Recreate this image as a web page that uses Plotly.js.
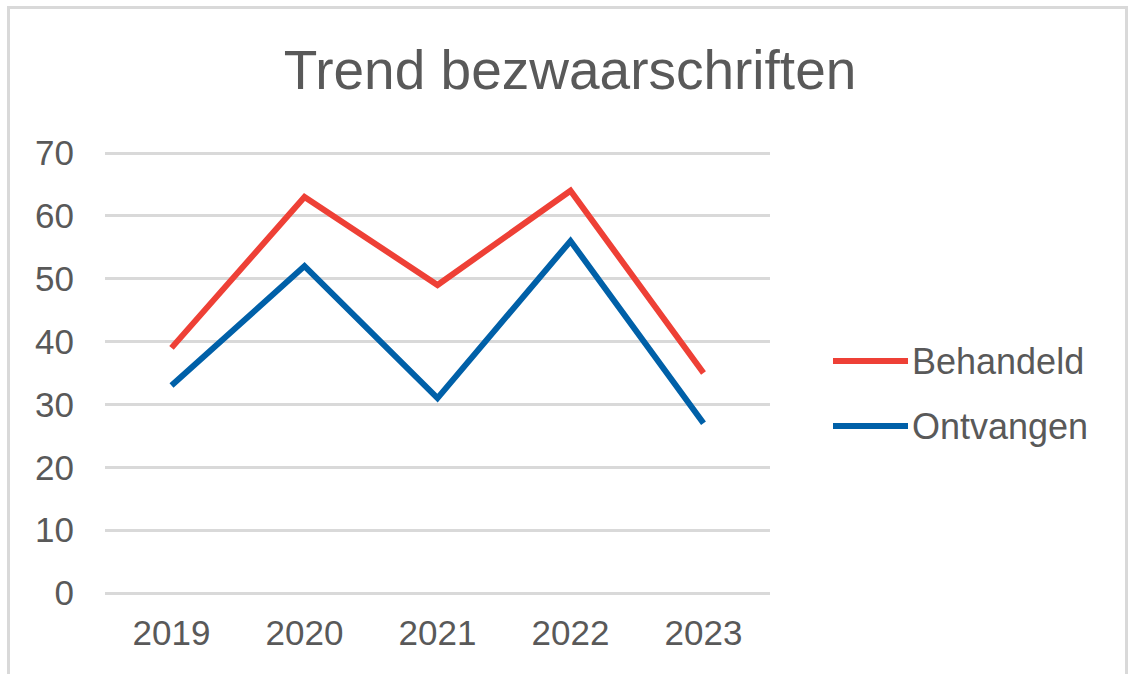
<!DOCTYPE html>
<html>
<head>
<meta charset="utf-8">
<script src="https://cdn.plot.ly/plotly-3.0.1.min.js"></script>
<style>
html, body { margin: 0; padding: 0; background: #ffffff; }
#chart { width: 1128px; height: 674px; }
</style>
</head>
<body>
<div id="chart"></div>
<script>
const chartTitle = "Trend bezwaarschriften";
const years = ["2019", "2020", "2021", "2022", "2023"];
const seriesNames = ["Behandeld", "Ontvangen"];
const behandeld = [39, 63, 49, 64, 35];
const ontvangen = [33, 52, 31, 56, 27];
const yTicks = [0, 10, 20, 30, 40, 50, 60, 70];

const W = 1128, H = 674;
const M = { l: 105, r: 358, t: 151, b: 79 };
const pw = W - M.l - M.r, ph = H - M.t - M.b;
const px = x => (x - M.l) / pw;          // pixel -> paper x
const py = y => 1 - (y - M.t) / ph;      // pixel -> paper y
const unitPx = 440 / 70;                 // pixels per y unit
const pad = 2 / unitPx;                  // keeps edge gridlines visible

const colors = ["#EE4036", "#0060A8"];
const textColor = "#595959";
const fontFam = "'Liberation Sans', Arial, sans-serif";

const traces = [behandeld, ontvangen].map((vals, i) => ({
  type: "scatter",
  mode: "lines",
  x: years,
  y: vals,
  name: seriesNames[i],
  line: { color: colors[i], width: 6, shape: "linear" },
  showlegend: false,
  hoverinfo: "x+y+name"
}));

// custom legend (long line samples like the reference)
const legendY = [361, 426];
const shapes = [];
const annotations = [];
seriesNames.forEach((n, i) => {
  shapes.push({
    type: "line", xref: "paper", yref: "paper",
    x0: px(833), x1: px(908), y0: py(legendY[i]), y1: py(legendY[i]),
    line: { color: colors[i], width: 6 }
  });
  annotations.push({
    xref: "paper", yref: "paper",
    x: px(910), y: py(legendY[i]),
    xanchor: "left", yanchor: "middle",
    text: n, showarrow: false,
    font: { family: fontFam, size: 36, color: textColor }
  });
});
// outer chart border (cropped at the bottom in the reference)
shapes.push({
  type: "path", xref: "paper", yref: "paper",
  path: `M ${px(8.5)} ${py(H + 5)} L ${px(8.5)} ${py(7.5)} L ${px(1126.5)} ${py(7.5)} L ${px(1126.5)} ${py(H + 5)}`,
  line: { color: "#D9D9D9", width: 3 }
});

const layout = {
  width: W, height: H,
  margin: M,
  paper_bgcolor: "#ffffff",
  plot_bgcolor: "#ffffff",
  showlegend: false,
  font: { family: fontFam, color: textColor },
  title: {
    text: chartTitle,
    font: { family: fontFam, size: 55, color: textColor },
    xref: "container", yref: "container",
    x: 570 / W, y: 1 - 70 / H,
    xanchor: "center", yanchor: "middle"
  },
  xaxis: {
    type: "category",
    range: [-0.5, 4.5],
    showgrid: false,
    zeroline: false,
    showline: false,
    ticks: "",
    ticklabelstandoff: 14,
    tickfont: { family: fontFam, size: 35, color: textColor },
    fixedrange: true
  },
  yaxis: {
    range: [0 - pad, 70 + pad],
    tickvals: yTicks,
    ticktext: yTicks.map(String),
    showgrid: true,
    gridcolor: "#D9D9D9",
    gridwidth: 3,
    zeroline: false,
    showline: false,
    ticks: "",
    ticklabelstandoff: 30,
    tickfont: { family: fontFam, size: 35, color: textColor },
    fixedrange: true
  },
  shapes: shapes,
  annotations: annotations
};

Plotly.newPlot("chart", traces, layout, { displayModeBar: false, staticPlot: true });
</script>
</body>
</html>
